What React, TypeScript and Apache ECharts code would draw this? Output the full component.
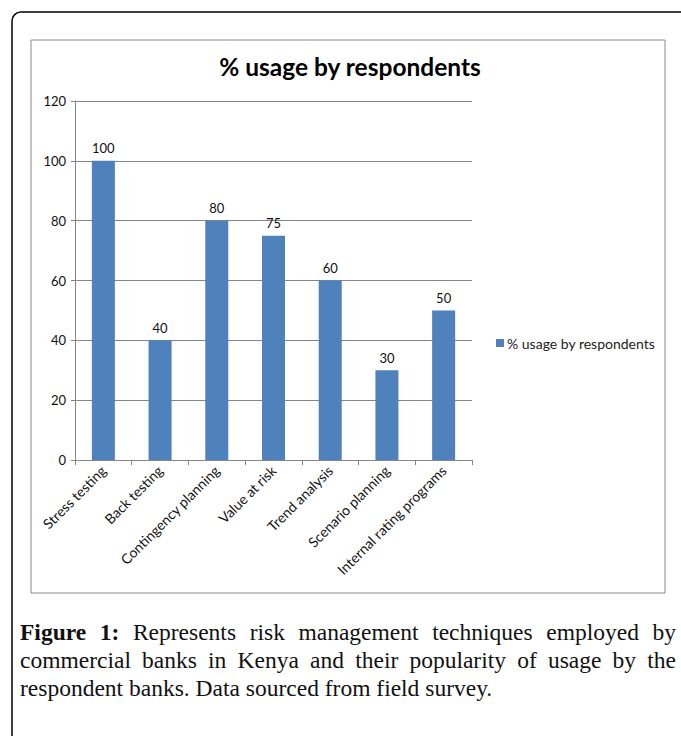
import React, { useEffect, useRef } from "react";
import * as echarts from "echarts";

const categories = [
  "Stress testing",
  "Back testing",
  "Contingency planning",
  "Value at risk",
  "Trend analysis",
  "Scenario planning",
  "Internal rating programs",
];
const usageValues = [100, 40, 80, 75, 60, 30, 50];
const seriesName = "% usage by respondents";
const chartTitle = "% usage by respondents";
const yTicks = { min: 0, max: 120, interval: 20 };
const captionLines = [
  { words: ["Figure", "1:", "Represents", "risk", "management", "techniques", "employed", "by"], bold: 2, justify: true },
  { words: ["commercial", "banks", "in", "Kenya", "and", "their", "popularity", "of", "usage", "by", "the"], bold: 0, justify: true },
  { words: ["respondent", "banks.", "Data", "sourced", "from", "field", "survey."], bold: 0, justify: false },
];

const CAP_FAMILY = "'Liberation Serif', 'DejaVu Serif', serif";

function buildCaption(): any[] {
  const canvas = document.createElement("canvas");
  const ctx = canvas.getContext("2d")!;
  const baseSize = 21;
  const fontOf = (bold: boolean, size: number) => `${bold ? "bold " : ""}${size}px ${CAP_FAMILY}`;
  ctx.font = fontOf(false, baseSize);
  const lastLine = captionLines[2].words.join(" ");
  const w = ctx.measureText(lastLine).width;
  const size = Math.max(18, Math.min(23.5, baseSize * 477 / w));
  const left = 20;
  const right = 676;
  const els: any[] = [];
  captionLines.forEach((line, li) => {
    const y = 632 + li * 28;
    const widths = line.words.map((wd, i) => {
      ctx.font = fontOf(i < line.bold, size);
      return ctx.measureText(wd).width;
    });
    ctx.font = fontOf(false, size);
    const space = ctx.measureText(" ").width;
    const total = widths.reduce((a, b) => a + b, 0);
    const gap = line.justify ? (right - left - total) / (line.words.length - 1) : space;
    let x = left;
    line.words.forEach((wd, i) => {
      els.push({
        type: "text",
        x,
        y,
        style: {
          text: wd,
          fontSize: size,
          fontFamily: CAP_FAMILY,
          fontWeight: i < line.bold ? "bold" : "normal",
          fill: "#111",
          textVerticalAlign: "middle",
          textAlign: "left",
        },
      });
      x += widths[i] + gap;
    });
  });
  return els;
}

export default function App() {
  const ref = useRef<HTMLDivElement>(null);
  useEffect(() => {
    if (!ref.current) return;
    const chart = echarts.init(ref.current, undefined, { renderer: "svg" });
    const font = "Lato, 'Open Sans', sans-serif";
    chart.setOption({
      animation: false,
      backgroundColor: "#fff",
      title: {
        text: chartTitle,
        left: 345,
        top: 49,
        textAlign: "center",
        textStyle: { fontFamily: font, fontSize: 24.5, fontWeight: "bold", color: "#000" },
      },
      legend: {
        data: [seriesName],
        left: 491,
        top: 331,
        orient: "vertical",
        itemWidth: 8,
        itemHeight: 8,
        itemGap: 5,
        icon: "rect",
        textStyle: { fontFamily: font, fontSize: 14, color: "#222", padding: [0, 0, 0, -2] },
      },
      grid: { left: 75, right: 209, top: 101, bottom: 276, containLabel: false },
      xAxis: {
        type: "category",
        data: categories,
        boundaryGap: true,
        axisLine: { lineStyle: { color: "#868686", width: 1 } },
        axisTick: { show: true, alignWithLabel: false, length: 5, lineStyle: { color: "#868686" } },
        axisLabel: {
          rotate: 45,
          interval: 0,
          margin: 8,
          fontFamily: font,
          fontSize: 14,
          color: "#111",
        },
      },
      yAxis: {
        type: "value",
        min: yTicks.min,
        max: yTicks.max,
        interval: yTicks.interval,
        axisLine: { show: true, lineStyle: { color: "#868686", width: 1 } },
        axisTick: { show: true, length: 4, lineStyle: { color: "#868686" } },
        splitLine: { show: true, lineStyle: { color: "#868686", width: 1 } },
        axisLabel: { fontFamily: font, fontSize: 13, color: "#111", margin: 9 },
      },
      series: [
        {
          name: seriesName,
          type: "bar",
          data: usageValues,
          barWidth: 23,
          itemStyle: { color: "#4F81BD" },
          label: {
            show: true,
            position: "top",
            distance: 6,
            fontFamily: font,
            fontSize: 13,
            color: "#111",
          },
        },
      ],
      graphic: [
        {
          type: "rect",
          shape: { x: 12, y: 12, width: 720, height: 760, r: 9 },
          style: { fill: "none", stroke: "#000", lineWidth: 1.5 },
          silent: true,
        },
        {
          type: "rect",
          shape: { x: 31, y: 40, width: 634, height: 553 },
          style: { fill: "none", stroke: "#8a8a8a", lineWidth: 1 },
          silent: true,
        },
        ...buildCaption(),
      ],
    });
    return () => chart.dispose();
  }, []);
  return (
    <div
      ref={ref}
      style={{ position: "absolute", left: 0, top: 0, width: 681, height: 736 }}
    />
  );
}
